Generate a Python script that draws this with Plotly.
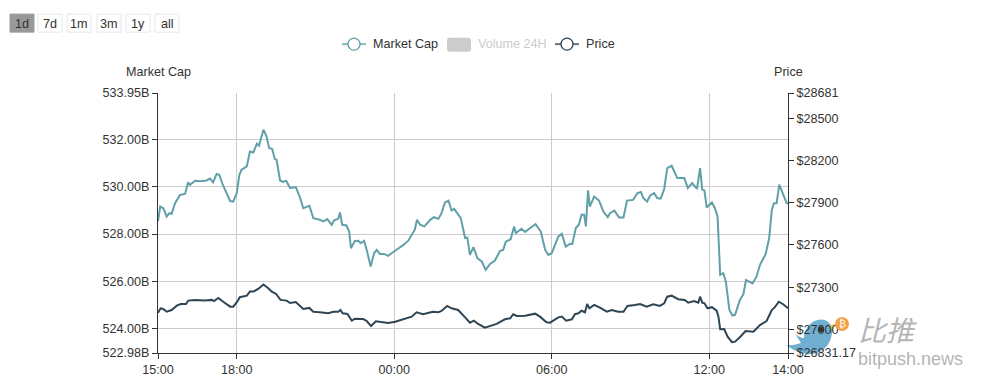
import plotly.graph_objects as go

W, H = 983, 385
L, R, T, B = 158, 788, 93.3, 353

cap_minutes = [0,5,12,20,26,31,39,50,62,69,73,85,96,111,119,126,134,140,148,157,165,172,180,186,191,203,210,218,226,231,241,248,254,261,267,271,279,286,293,302,315,325,332,346,355,370,378,387,397,402,412,416,421,431,437,441,450,458,463,471,478,486,494,500,507,517,526,534,546,561,572,587,592,599,609,622,631,641,648,656,664,671,677,683,692,702,707,713,721,730,740,749,759,770,782,789,795,806,814,818,831,839,852,863,875,885,892,900,915,923,932,942,947,955,962,968,974,978,983,987,997,1008,1018,1028,1033,1043,1054,1064,1072,1086,1096,1104,1109,1118,1125,1134,1141,1149,1157,1164,1174,1187,1203,1211,1221,1232,1239,1244,1249,1254,1266,1273,1279,1285,1292,1298,1306,1313,1319,1330,1338,1344,1359,1368,1376,1389,1397,1403,1408,1414,1420,1428,1437,1440]
market_cap = [528.53,529.16,529.09,528.74,528.88,528.85,529.30,529.64,529.70,530.18,530.08,530.25,530.23,530.26,530.34,530.18,530.53,530.50,530.08,529.75,529.39,529.37,529.73,530.50,530.71,530.85,531.48,531.44,531.81,531.73,532.40,532.12,531.63,531.59,531.16,531.13,530.26,530.20,530.25,529.94,529.98,529.52,529.09,529.19,528.67,528.60,528.53,528.63,528.39,528.57,528.65,528.91,528.39,528.36,528.10,527.40,527.71,527.72,527.61,527.71,527.26,526.63,527.19,527.33,527.16,527.16,527.08,527.19,527.33,527.54,527.72,528.18,528.60,528.39,528.32,528.60,528.71,528.64,528.88,529.33,529.41,528.99,529.06,528.88,528.67,527.83,527.85,527.12,527.45,526.98,526.84,526.49,526.74,526.88,527.29,527.33,527.68,527.78,528.32,528.04,528.22,528.09,528.27,528.42,528.10,527.33,527.12,527.19,527.89,528.01,527.47,527.59,527.58,528.25,528.39,528.81,528.81,528.32,529.84,529.16,529.58,529.41,528.95,528.71,528.88,528.99,528.70,528.70,529.41,529.44,529.73,529.77,529.52,529.37,529.63,529.73,529.52,529.49,529.90,530.78,530.88,530.36,530.36,529.94,530.15,529.90,530.78,529.87,529.84,529.12,529.33,529.09,528.74,526.28,526.35,525.99,524.80,524.56,524.59,525.22,525.46,526.06,525.92,526.20,526.70,527.16,527.83,529.02,529.30,529.30,530.08,529.69,529.30,529.28]

price_minutes = [0,6,12,20,31,43,52,64,69,85,107,123,128,138,149,165,172,181,187,203,210,218,229,241,252,260,270,280,294,302,315,332,346,355,370,382,389,401,412,417,422,433,443,450,469,477,487,498,511,526,542,561,580,591,606,628,641,648,661,671,686,702,713,722,732,747,759,774,793,805,812,820,839,862,873,888,896,915,923,933,946,953,961,968,976,981,986,997,1010,1026,1037,1052,1064,1073,1090,1102,1117,1132,1147,1157,1164,1174,1189,1204,1212,1225,1235,1239,1244,1249,1256,1266,1277,1281,1285,1294,1302,1312,1319,1330,1343,1361,1376,1391,1403,1410,1419,1429,1440]
price = [27118,27149,27144,27125,27137,27168,27180,27180,27204,27209,27204,27209,27201,27223,27196,27161,27161,27196,27228,27239,27268,27268,27287,27318,27292,27268,27251,27209,27204,27187,27194,27144,27152,27125,27121,27118,27114,27125,27125,27137,27114,27109,27061,27075,27073,27059,27023,27057,27050,27045,27054,27071,27090,27121,27107,27125,27121,27130,27166,27149,27137,27085,27047,27061,27038,27011,27023,27038,27071,27078,27107,27095,27097,27111,27090,27050,27047,27085,27090,27061,27071,27107,27114,27132,27121,27180,27149,27173,27154,27125,27137,27125,27125,27166,27173,27180,27161,27178,27166,27185,27232,27239,27214,27209,27189,27201,27189,27232,27189,27185,27149,27157,27132,27090,27000,27002,26947,26909,26912,26943,26988,26983,27030,27059,27137,27157,27196,27178,27149]

x_tick_minutes = [0, 180, 540, 900, 1260, 1440]
x_tick_labels = ["15:00", "18:00", "00:00", "06:00", "12:00", "14:00"]
cap_ticks = [522.98, 524, 526, 528, 530, 532, 533.95]
cap_tick_labels = ["522.98B", "524.00B", "526.00B", "528.00B", "530.00B", "532.00B", "533.95B"]
price_ticks = [26831.17, 27000, 27300, 27600, 27900, 28200, 28500, 28681]
price_tick_labels = ["$26831.17", "$27000", "$27300", "$27600", "$27900", "$28200", "$28500", "$28681"]
range_buttons = ["1d", "7d", "1m", "3m", "1y", "all"]
button_lefts = [10, 38, 67, 97, 126, 155]

CAP_COLOR, PRICE_COLOR = "#61a0a8", "#2f4554"
FONT = "Liberation Sans"
TEXT = "#333333"
SIZE = 12.6


def px(x):
    return (x - L) / (R - L)


def py(y):
    return (B - y) / (B - T)


def note(text, x, y, size=SIZE, color=TEXT, anchor="center", family=FONT):
    return dict(text=text, xref="paper", yref="paper", x=px(x), y=py(y), showarrow=False,
                font=dict(family=family, size=size, color=color), xanchor=anchor, yanchor="middle",
                xshift=0, yshift=0)


def outline(points):
    parts = []
    for cmd, pts in points:
        parts.append(cmd + " " + " ".join(f"{px(a):.5f} {py(b):.5f}" for a, b in pts))
    return " ".join(parts) + " Z"


fig = go.Figure()
fig.add_trace(go.Scatter(x=cap_minutes, y=market_cap, mode="lines", yaxis="y", name="Market Cap", showlegend=False,
                         line=dict(color=CAP_COLOR, width=2), hoverinfo="skip"))
fig.add_trace(go.Scatter(x=price_minutes, y=price, mode="lines", yaxis="y2", name="Price", showlegend=False,
                         line=dict(color=PRICE_COLOR, width=2), hoverinfo="skip"))

shapes, annotations = [], []
for label, left in zip(range_buttons, button_lefts):
    active = label == "1d"
    shapes.append(dict(type="rect", xref="paper", yref="paper", x0=px(left), x1=px(left + 24), y0=py(32.5), y1=py(14.5),
                       fillcolor="#999999" if active else "#ffffff",
                       line=dict(color="#999999" if active else "#e6e6e6", width=1)))
    annotations.append(note(label, left + 12, 24))

annotations.append(note("Market Cap", 158, 72))
annotations.append(note("Price", 788, 72))

# Hand-drawn legend, matching the reference's swatches
for name, start, color in [("Market Cap", 342, CAP_COLOR), ("Price", 555, PRICE_COLOR)]:
    shapes.append(dict(type="line", xref="paper", yref="paper", x0=px(start), x1=px(start + 24), y0=py(44.5), y1=py(44.5),
                       line=dict(color=color, width=2), opacity=0.75))
    shapes.append(dict(type="circle", xref="paper", yref="paper", x0=px(start + 6), x1=px(start + 18), y0=py(50.5), y1=py(38.5),
                       fillcolor="white", line=dict(color=color, width=1.3)))
    annotations.append(note(name, start + 29, 44.5, anchor="left"))
shapes.append(dict(type="path", xref="paper", yref="paper", fillcolor="#cccccc", line=dict(width=0),
                   path=outline([("M", [(450, 38)]), ("L", [(468, 38)]), ("Q", [(471, 38), (471, 41)]), ("L", [(471, 49)]),
                                 ("Q", [(471, 52), (468, 52)]), ("L", [(450, 52)]), ("Q", [(447, 52), (447, 49)]),
                                 ("L", [(447, 41)]), ("Q", [(447, 38), (450, 38)])])))
annotations.append(note("Volume 24H", 476, 44.5, color="#cccccc", anchor="left"))

# Watermark: the axis labels stay on top of it
bird = [("M", [(786, 345)]),
        ("C", [(792, 346), (797, 344), (801, 343)]),
        ("C", [(799, 340), (797, 337), (795.5, 334)]),
        ("C", [(798, 336), (801, 338), (804, 338)]),
        ("C", [(804, 328), (812, 319.5), (821, 319.5)]),
        ("C", [(828, 319.5), (833, 325), (832, 333)]),
        ("C", [(831, 343), (825, 350), (817, 353)]),
        ("C", [(808, 356), (797, 353), (786, 345)])]
shapes.append(dict(type="path", xref="paper", yref="paper", layer="below", path=outline(bird),
                   fillcolor="#6fb0d2", line=dict(width=0)))
shapes.append(dict(type="path", xref="paper", yref="paper", layer="below",
                   path=outline([("M", [(830, 325)]), ("L", [(834, 324)]), ("L", [(833, 333)])]),
                   fillcolor="#f5d442", line=dict(width=0)))
shapes.append(dict(type="circle", xref="paper", yref="paper", x0=px(818), x1=px(824), y0=py(332.5), y1=py(326.5),
                   fillcolor="#333333", line=dict(width=0)))
shapes.append(dict(type="circle", xref="paper", yref="paper", x0=px(835), x1=px(849), y0=py(331), y1=py(317),
                   fillcolor="#f0a24a", line=dict(width=0)))
annotations.append(note("₿", 842, 324, size=10, color="white", family="DejaVu Sans"))
annotations.append(note("<i>比推</i>", 856, 329.5, size=28, color="#b5b5b5", anchor="left", family="Noto Sans CJK SC"))
annotations.append(note("bitpush.news", 855.5, 358.5, size=18, color="#b5b5b5", anchor="left"))

axis_line = dict(showline=True, linecolor=TEXT, linewidth=1, ticks="outside", ticklen=5, tickcolor=TEXT, zeroline=False)
fig.update_layout(
    width=W, height=H, paper_bgcolor="white", plot_bgcolor="rgba(0,0,0,0)",
    margin=dict(l=L, r=W - R, t=T, b=H - B, pad=0, autoexpand=False),
    font=dict(family=FONT, size=SIZE, color=TEXT),
    xaxis=dict(range=[0, 1440], tickmode="array", tickvals=x_tick_minutes, ticktext=x_tick_labels,
               showgrid=True, gridcolor="#cccccc", gridwidth=1, **axis_line),
    yaxis=dict(range=[522.98, 533.95], tickmode="array", tickvals=cap_ticks, ticktext=cap_tick_labels,
               showgrid=True, gridcolor="#cccccc", gridwidth=1, **axis_line),
    yaxis2=dict(range=[26831.17, 28681], tickmode="array", tickvals=price_ticks, ticktext=price_tick_labels,
                overlaying="y", side="right", showgrid=False, **axis_line),
    shapes=shapes, annotations=annotations, showlegend=False,
)
fig.write_html("out.html", config=dict(displayModeBar=False),
               post_script="document.body.style.margin='0';document.documentElement.style.overflow='hidden';")
